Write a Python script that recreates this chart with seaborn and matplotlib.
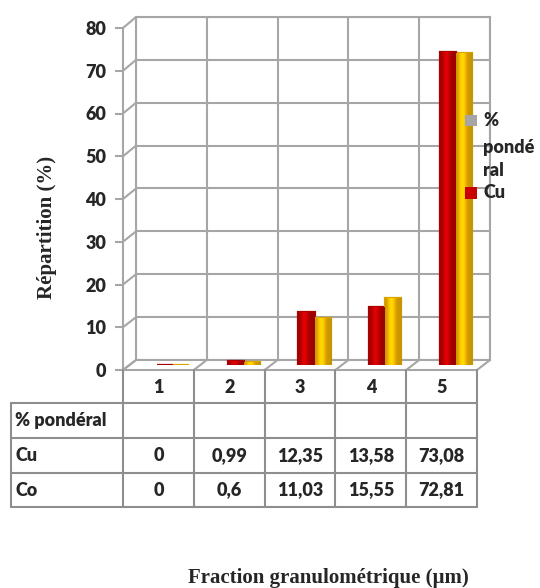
import numpy as np
import pandas as pd
import matplotlib
matplotlib.use("Agg")
import matplotlib.pyplot as plt
import seaborn as sns
from matplotlib.lines import Line2D
from matplotlib.patches import Rectangle
from matplotlib.transforms import IdentityTransform
from matplotlib.colors import to_rgb

# ---- data ----
fractions = ["1", "2", "3", "4", "5"]
series = ["% pondéral", "Cu", "Co"]
ponderal = [np.nan] * 5
cu = [0, 0.99, 12.35, 13.58, 73.08]
co = [0, 0.6, 11.03, 15.55, 72.81]
y_ticks = list(range(0, 81, 10))
palette = {"% pondéral": "#A5A5A5", "Cu": "#C80000", "Co": "#FFC000"}

sns.set_theme(style="white")
plt.rcParams["font.family"] = ["Lato", "DejaVu Sans"]
WEIGHT = "heavy"
plt.rcParams["font.weight"] = WEIGHT

W, H = 540, 588
fig = plt.figure(figsize=(W / 100, H / 100), dpi=100)
fig.patch.set_facecolor("white")


def rect(x0, y0, x1, y1):
    return [x0 / W, 1 - y1 / H, (x1 - x0) / W, (y1 - y0) / H]


grid_c = "#A6A6A6"
lw = 1.5
fs = 13

# back wall with gridlines
ax_back = fig.add_axes(rect(136, 17, 490, 360))
ax_back.set_xlim(0, 5)
ax_back.set_ylim(0, 80)
ax_back.set_xticks(range(6))
ax_back.set_yticks(y_ticks)
ax_back.tick_params(length=0, labelleft=False, labelbottom=False)
ax_back.grid(True, color=grid_c, lw=lw)
for s in ax_back.spines.values():
    s.set_visible(True)
    s.set_color(grid_c)
    s.set_linewidth(lw)

# front value axis
ax_front = fig.add_axes(rect(123, 28, 477, 370))
ax_front.patch.set_alpha(0)
ax_front.set_xlim(0, 5)
ax_front.set_ylim(0, 80)
ax_front.set_yticks(y_ticks)
ax_front.set_xticks([])
for side in ("top", "right"):
    ax_front.spines[side].set_visible(False)
for side in ("left", "bottom"):
    ax_front.spines[side].set_color(grid_c)
    ax_front.spines[side].set_linewidth(lw)
ax_front.tick_params(axis="y", length=6, width=lw, color=grid_c, pad=6,
                     labelsize=fs, left=True)
for lab in ax_front.get_yticklabels():
    lab.set_fontweight(WEIGHT)

# side wall and floor edges joining front and back planes
for v in y_ticks:
    p0 = ax_front.transData.transform((0, v))
    p1 = ax_back.transData.transform((0, v))
    fig.add_artist(Line2D([p0[0], p1[0]], [p0[1], p1[1]], color=grid_c, lw=lw,
                          transform=IdentityTransform()))
for k in range(6):
    p0 = ax_front.transData.transform((k, 0))
    p1 = ax_back.transData.transform((k, 0))
    fig.add_artist(Line2D([p0[0], p1[0]], [p0[1], p1[1]], color=grid_c, lw=lw,
                          transform=IdentityTransform()))

# bars at mid depth
ax_bars = fig.add_axes(rect(129.5, 22.5, 483.5, 365))
ax_bars.patch.set_alpha(0)
df = pd.DataFrame({
    "Fraction": fractions * len(series),
    "Série": [s for s in series for _ in fractions],
    "Valeur": ponderal + cu + co,
})
sns.barplot(data=df, x="Fraction", y="Valeur", hue="Série", order=fractions,
            hue_order=series, palette=palette, width=0.68, saturation=1,
            legend=False, ax=ax_bars)
t = np.linspace(0, 1, 48)
shade = 0.78 + 0.36 * np.exp(-((t - 0.38) / 0.22) ** 2)
for p in list(ax_bars.patches):
    h = p.get_height()
    if h is None or np.isnan(h):
        continue
    base = np.array(to_rgb(p.get_facecolor()))
    p.set_edgecolor(tuple(base * 0.85))
    p.set_linewidth(1.6)
    if h > 0:
        img = np.clip(base[None, None, :] * shade[None, :, None], 0, 1)
        im = ax_bars.imshow(img, extent=(p.get_x(), p.get_x() + p.get_width(), 0, h),
                            aspect="auto", interpolation="bilinear",
                            zorder=p.get_zorder() + 0.1)
        im.set_clip_path(p)
ax_bars.set_xlim(-0.5, 4.5)
ax_bars.set_ylim(0, 80)
ax_bars.axis("off")

# overlay in pixel coordinates for the data table and legend
ov = fig.add_axes([0, 0, 1, 1], zorder=10)
ov.patch.set_alpha(0)
ov.set_xlim(0, W)
ov.set_ylim(H, 0)
ov.axis("off")

tab_c = "#8E8E8E"
col_x = [ax_front.transData.transform((k, 0))[0] for k in range(6)]
x_left = 10.5
y_hdr, y_top = 370, 403
row_y = [403, 438, 473, 507]
for x in col_x:
    ov.plot([x, x], [y_hdr, row_y[-1]], color=tab_c, lw=lw)
for y in row_y:
    ov.plot([x_left, col_x[-1]], [y, y], color=tab_c, lw=lw)
ov.plot([x_left, x_left], [row_y[0], row_y[-1]], color=tab_c, lw=lw)

centers = [(col_x[k] + col_x[k + 1]) / 2 for k in range(5)]
for cx, lab in zip(centers, fractions):
    ov.text(cx, (y_hdr + y_top) / 2 + 1, lab, ha="center", va="center",
            fontsize=fs, fontweight=WEIGHT)


def fmt(v):
    if v is None or (isinstance(v, float) and np.isnan(v)):
        return ""
    return f"{v:g}".replace(".", ",")


rows = {"% pondéral": ponderal, "Cu": cu, "Co": co}
for i, (name, vals) in enumerate(rows.items()):
    yc = (row_y[i] + row_y[i + 1]) / 2
    ov.text(x_left + 4.5, yc, name, ha="left", va="center", fontsize=fs,
            fontweight=WEIGHT)
    for cx, v in zip(centers, vals):
        ov.text(cx, yc, fmt(v), ha="center", va="center", fontsize=fs,
                fontweight=WEIGHT)

# legend (clipped at the right edge of the figure)
ov.add_patch(Rectangle((465, 115), 12, 11, color=palette["% pondéral"], lw=0))
ov.text(483, 121, "%", ha="left", va="center", fontsize=fs, fontweight=WEIGHT)
ov.text(483, 148, "pondé", ha="left", va="center", fontsize=fs, fontweight=WEIGHT)
ov.text(483, 171, "ral", ha="left", va="center", fontsize=fs, fontweight=WEIGHT)
ov.add_patch(Rectangle((465, 187), 12, 12, color=palette["Cu"], lw=0))
ov.text(483, 193, "Cu", ha="left", va="center", fontsize=fs, fontweight=WEIGHT)

# axis titles
serif = ["Liberation Serif", "DejaVu Serif"]
ov.text(47, 227, "Répartition (%)", rotation=90, ha="center", va="center",
        fontsize=15, fontweight="bold", family=serif)
ov.text(328, 578, "Fraction granulométrique (µm)", ha="center", va="center",
        fontsize=15, fontweight="bold", family=serif)

fig.savefig("out.png", dpi=100, facecolor="white")
